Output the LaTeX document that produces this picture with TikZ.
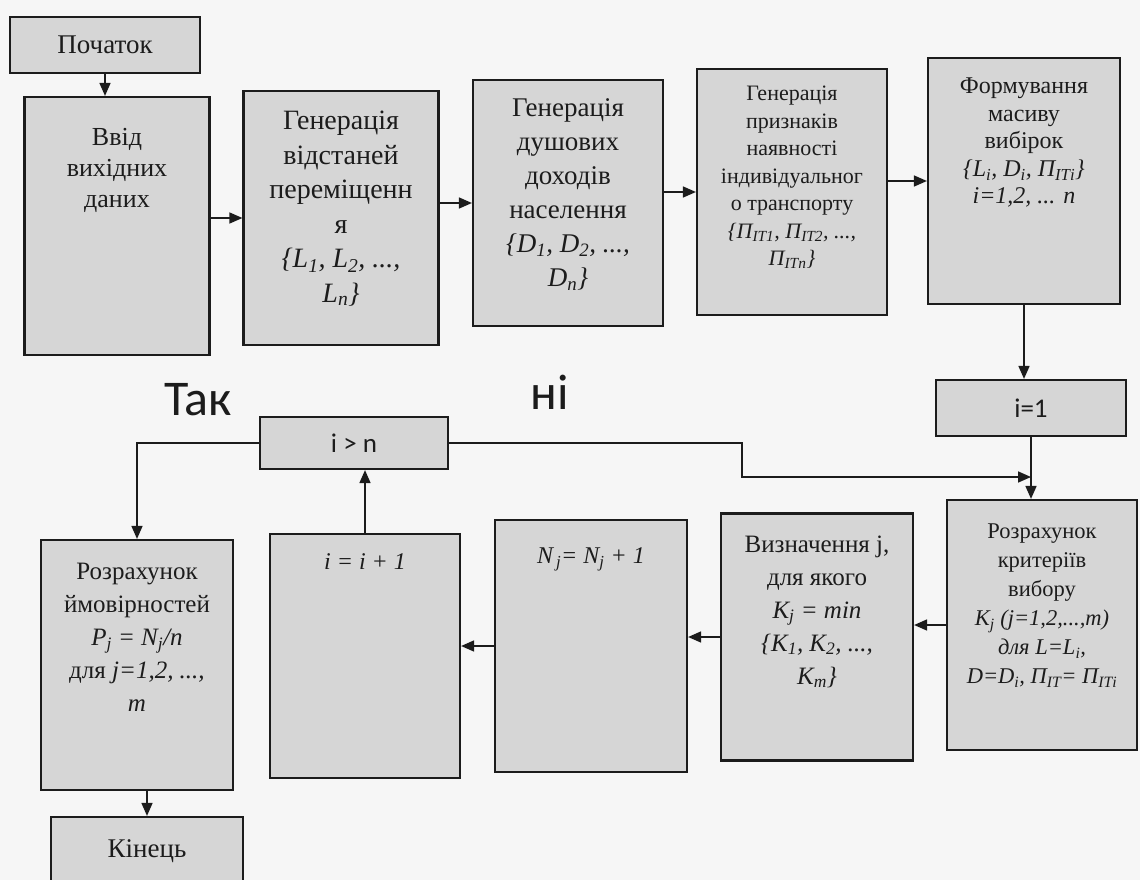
\documentclass[tikz,border=0pt]{standalone}
\usepackage{fontspec}
\setmainfont{Liberation Serif}
\newfontfamily\calib{Carlito}
\usetikzlibrary{arrows.meta,calc}
\definecolor{bgc}{RGB}{246,246,246}
\definecolor{boxc}{RGB}{214,214,214}
\definecolor{inkc}{RGB}{28,28,28}
\newcommand{\fs}[2]{\fontsize{#1}{#2}\selectfont}
\newcommand{\sbx}[1]{\textsubscript{#1}}
\begin{document}
\begin{tikzpicture}[x=1pt,y=-1pt,
  box/.style={draw=inkc,fill=boxc,line width=2.2pt,inner sep=0pt,text=inkc},
  sz/.style 2 args={minimum width=#1pt,minimum height=#2pt},
  txt/.style={anchor=north,align=center,inner sep=0pt,text=inkc},
  arr/.style={draw=inkc,line width=1.6pt,-{Triangle[length=13pt,width=11pt]}},
  lbl/.style={text=inkc,inner sep=0pt,font=\calib\fs{50}{55}}]
\fill[bgc] (0,0) rectangle (1140,880);
\useasboundingbox (0,0) rectangle (1140,880);

% top row
\node[box,sz={190}{56},font=\fs{27}{30}] (start) at (105,45) {Початок};
\node[box,sz={185}{258}] (b1) at (117,226) {};
\node[box,sz={195}{254}] (b2) at (341,218) {};
\node[box,sz={190}{246}] (b3) at (568,203) {};
\node[box,sz={190}{246}] (b4) at (792,192) {};
\node[box,sz={192}{246}] (b5) at (1024,181) {};

\node[txt,font=\fs{26}{31}] (t1) at ($(b1.north)+(0,32)$) {Ввід\\вихідних\\даних};
\node[txt,font=\fs{28}{34.5}] (t2) at ($(b2.north)+(0,21)$) {Генерація\\відстаней\\переміщенн\\я\\{\itshape \{L\sbx{1}, L\sbx{2}, ...,}\\{\itshape L\sbx{n}\}}};
\node[txt,font=\fs{27}{34}] (t3) at ($(b3.north)+(0,20)$) {Генерація\\душових\\доходів\\населення\\{\itshape \{D\sbx{1}, D\sbx{2}, ...,}\\{\itshape D\sbx{n}\}}};
\node[txt,font=\fs{22}{27.5}] (t4) at ($(b4.north)+(0,18)$) {Генерація\\признаків\\наявності\\індивідуальног\\о транспорту\\{\itshape \{П\sbx{ІТ1}, П\sbx{ІТ2}, ...,}\\{\itshape П\sbx{ІТn}\}}};
\node[txt,font=\fs{24}{27.5}] (t5) at ($(b5.north)+(0,21)$) {Формування\\масиву\\вибірок\\{\itshape \{L\sbx{i}, D\sbx{i}, П\sbx{ІТi}\}}\\{\itshape i=1,2, ... n}};

% middle
\node[box,sz={190}{56},font=\calib\fs{27}{30}] (i1) at (1031,408) {i=1};
\node[box,sz={188}{52},font=\calib\fs{27}{30}] (gt) at (354,443) {i > n};
\node[lbl] (yes) at (198,400) {Так};
\node[lbl] (no) at (550,392) {ні};

% bottom row
\node[box,sz={190}{250}] (b6) at (1042,625) {};
\node[box,sz={192}{247}] (b7) at (817,637) {};
\node[box,sz={192}{252}] (b8) at (591,646) {};
\node[box,sz={190}{244}] (b9) at (365,656) {};
\node[box,sz={192}{250}] (b10) at (137,665) {};
\node[box,sz={192}{68},font=\fs{27}{30}] (end) at (147,851) {Кінець};

\node[txt,font=\fs{22.5}{29}] (t6) at ($(b6.north)+(0,25)$) {Розрахунок\\критеріїв\\вибору\\{\itshape K\sbx{j} (j=1,2,...,m)}\\{\itshape для L=L\sbx{i},}\\{\itshape D=D\sbx{i}, П\sbx{ІТ}= П\sbx{ІТi}}};
\node[txt,font=\fs{25}{33}] (t7) at ($(b7.north)+(0,23)$) {Визначення j,\\для якого\\{\itshape K\sbx{j} = min}\\{\itshape \{K\sbx{1}, K\sbx{2}, ...,}\\{\itshape K\sbx{m}\}}};
\node[txt,font=\fs{24}{30}] (t8) at ($(b8.north)+(0,29)$) {{\itshape N\sbx{\,j}= N\sbx{j} + 1}};
\node[txt,font=\fs{24}{30}] (t9) at ($(b9.north)+(0,21)$) {{\itshape i = i + 1}};
\node[txt,font=\fs{25}{33}] (t10) at ($(b10.north)+(0,24)$) {Розрахунок\\ймовірностей\\{\itshape P\sbx{j} = N\sbx{j}/n}\\для {\itshape j=1,2, ...,}\\{\itshape m}};

% connectors
\coordinate (s1) at (742,477);
\draw[arr] (start.south) -- (start.south |- b1.north);
\draw[arr] (b2.west -| b1.east) -- (b2.west);
\draw[arr] (b3.west -| b2.east) -- (b3.west);
\draw[arr] (b4.west -| b3.east) -- (b4.west);
\draw[arr] (b5.west -| b4.east) -- (b5.west);
\draw[arr] (b5.south) -- (b5.south |- i1.north);
\draw[arr] (i1.south) -- (i1.south |- b6.north);
\draw[arr] (gt.east) -- (gt.east -| s1) -- (s1) -- (s1 -| i1.south);
\draw[arr] (b6.west) -- (b6.west -| b7.east);
\draw[arr] (b7.west) -- (b7.west -| b8.east);
\draw[arr] (b8.west) -- (b8.west -| b9.east);
\draw[arr] (b9.north) -- (b9.north |- gt.south);
\draw[arr] (gt.west) -| (b10.north);
\draw[arr] (end.north |- b10.south) -- (end.north);
\end{tikzpicture}
\end{document}
